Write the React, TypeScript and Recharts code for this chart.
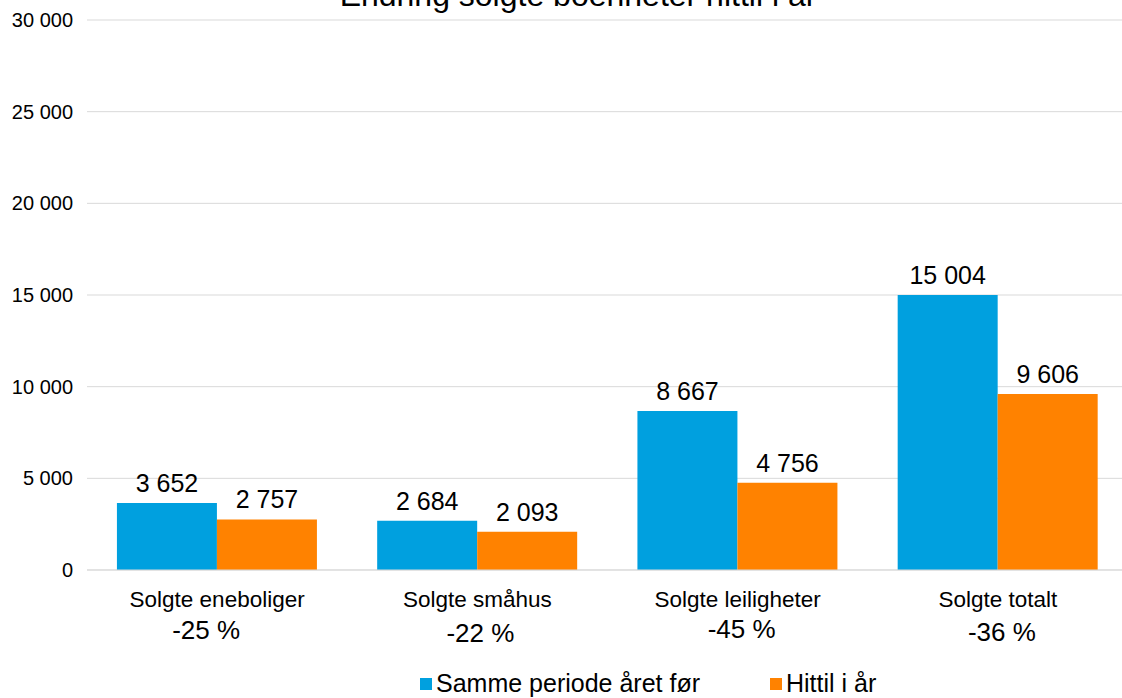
import React from "react";
import { BarChart, Bar, XAxis, YAxis, CartesianGrid, LabelList } from "recharts";

const categories = ["Solgte eneboliger", "Solgte småhus", "Solgte leiligheter", "Solgte totalt"];
const changePct = ["-25 %", "-22 %", "-45 %", "-36 %"];
const lastYear = [3652, 2684, 8667, 15004];
const thisYear = [2757, 2093, 4756, 9606];
const yTicks = [0, 5000, 10000, 15000, 20000, 25000, 30000];
const seriesNames = ["Samme periode året før", "Hittil i år"];

// the percentage boxes in the original sit a little off-centre
const pctDx = [-11, 3, 4, 4];
const pctDy = [61, 64, 60, 63];

const BLUE = "#00A0DF";
const ORANGE = "#FF8200";
const FONT = "'Liberation Sans', Arial, sans-serif";

const data = categories.map((c, i) => ({
  name: c,
  prev: lastYear[i],
  cur: thisYear[i],
}));

const fmt = (v: number) => String(v).replace(/\B(?=(\d{3})+(?!\d))/g, " ");

function CategoryTick({ x, y, payload, index }: any) {
  return (
    <g transform={`translate(${x},${y})`}>
      <text x={0} y={29} textAnchor="middle" fontSize={22.5} fill="#000" fontFamily={FONT}>
        {payload.value}
      </text>
      <text x={pctDx[index]} y={pctDy[index]} textAnchor="middle" fontSize={26} fill="#000" fontFamily={FONT}>
        {changePct[index]}
      </text>
    </g>
  );
}

export default function App() {
  return (
    <div style={{ position: "fixed", left: 0, top: 0, width: 1122, height: 698, overflow: "hidden", background: "#fff" }}>
      <BarChart
        width={1130}
        height={698}
        data={data}
        margin={{ top: 20, right: 2, left: 0, bottom: 58 }}
        barCategoryGap="11.5%"
        barGap={0}
      >
        <CartesianGrid vertical={false} stroke="#d9d9d9" />
        <XAxis
          dataKey="name"
          axisLine={{ stroke: "#d9d9d9" }}
          tickLine={false}
          height={70}
          interval={0}
          tick={<CategoryTick />}
        />
        <YAxis
          width={87}
          domain={[0, 30000]}
          ticks={yTicks}
          axisLine={false}
          tickLine={false}
          tickFormatter={fmt}
          tick={{ fontSize: 20, fill: "#000", fontFamily: FONT, dx: -6 }}
        />
        <Bar dataKey="prev" name={seriesNames[0]} fill={BLUE} isAnimationActive={false}>
          <LabelList dataKey="prev" position="top" offset={11} formatter={(v: any) => fmt(Number(v))} style={{ fontSize: 25, fill: "#000", fontFamily: FONT }} />
        </Bar>
        <Bar dataKey="cur" name={seriesNames[1]} fill={ORANGE} isAnimationActive={false}>
          <LabelList dataKey="cur" position="top" offset={11} formatter={(v: any) => fmt(Number(v))} style={{ fontSize: 25, fill: "#000", fontFamily: FONT }} />
        </Bar>
      </BarChart>
      <svg width={1122} height={698} style={{ position: "absolute", left: 0, top: 0, pointerEvents: "none" }}>
        <text x={578} y={6} textAnchor="middle" fontSize={32} fill="#000" fontFamily={FONT}>
          Endring solgte boenheter hittil i år
        </text>
        <rect x={420} y={678} width={12} height={12} fill={BLUE} />
        <text x={436} y={692} fontSize={25} fill="#000" fontFamily={FONT}>{seriesNames[0]}</text>
        <rect x={770} y={678} width={12} height={12} fill={ORANGE} />
        <text x={786} y={692} fontSize={25} fill="#000" fontFamily={FONT}>{seriesNames[1]}</text>
      </svg>
    </div>
  );
}
